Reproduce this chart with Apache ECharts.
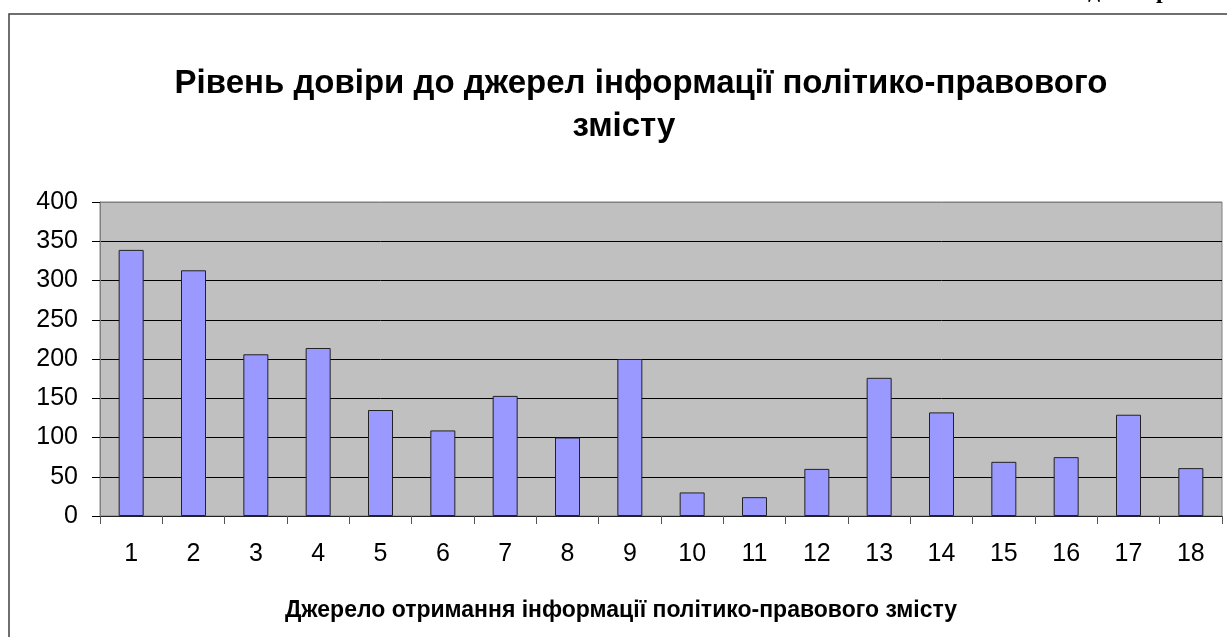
<!DOCTYPE html>
<html>
<head>
<meta charset="utf-8">
<script src="https://cdn.jsdelivr.net/npm/echarts@6/dist/echarts.min.js"></script>
<style>
  html, body { margin: 0; padding: 0; background: #fff; }
  #chart { width: 1227px; height: 637px; }
</style>
</head>
<body>
<div id="chart"></div>
<script>
// source numbers 1..18 and the trust level
const sources = ['1', '2', '3', '4', '5', '6', '7', '8', '9', '10', '11', '12', '13', '14', '15', '16', '17', '18'];
const trustLevel = [339, 313, 206, 214, 135, 109, 153, 100, 200, 30, 24, 60, 176, 132, 69, 75, 129, 61];

const titleLine1 = 'Рівень довіри до джерел інформації політико-правового';
const titleLine2 = 'змісту';
const xAxisTitle = 'Джерело отримання інформації політико-правового змісту';

const chart = echarts.init(document.getElementById('chart'));

// 9 split lines (0..400), the top one is the grey plot border
const splitColors = ['#000', '#000', '#000', '#000', '#000', '#000', '#000', '#000', '#808080'];

const option = {
  backgroundColor: '#fff',
  animation: false,
  textStyle: { fontFamily: 'Arial, "Liberation Sans", sans-serif' },
  graphic: [
    {
      type: 'rect',
      shape: { x: 9, y: 14, width: 1240, height: 640 },
      style: { fill: 'none', stroke: '#404040', lineWidth: 1.5 },
      silent: true
    },
    {
      type: 'text',
      x: 641, y: 84,
      style: {
        text: titleLine1, align: 'center', verticalAlign: 'middle',
        font: 'bold 33px Arial, "Liberation Sans", sans-serif', fill: '#000'
      }
    },
    {
      type: 'text',
      x: 624, y: 127,
      style: {
        text: titleLine2, align: 'center', verticalAlign: 'middle',
        font: 'bold 33px Arial, "Liberation Sans", sans-serif', fill: '#000'
      }
    },
    {
      type: 'text',
      x: 621, y: 611,
      style: {
        text: xAxisTitle, align: 'center', verticalAlign: 'middle',
        font: 'bold 23px Arial, "Liberation Sans", sans-serif', fill: '#000'
      }
    },
    // cut-off heading above the frame
    {
      type: 'text',
      x: 1088, y: 4,
      style: {
        text: 'д', align: 'left', verticalAlign: 'bottom',
        font: 'bold 24px "Liberation Serif", serif', fill: '#000'
      }
    },
    {
      type: 'text',
      x: 1156, y: 4,
      style: {
        text: 'р', align: 'left', verticalAlign: 'bottom',
        font: 'bold 24px "Liberation Serif", serif', fill: '#000'
      }
    }
  ],
  grid: {
    left: 100,
    right: 5,
    top: 202,
    bottom: 121,
    show: true,
    backgroundColor: '#c0c0c0',
    borderColor: '#808080',
    borderWidth: 1
  },
  xAxis: {
    type: 'category',
    data: sources,
    boundaryGap: true,
    axisLine: { show: true, lineStyle: { color: '#222', width: 1 } },
    axisTick: { show: true, interval: 0, length: 8, lineStyle: { color: '#555' } },
    axisLabel: { interval: 0, margin: 26, fontSize: 25, color: '#000' },
    splitLine: { show: false }
  },
  yAxis: {
    type: 'value',
    min: 0,
    max: 400,
    interval: 50,
    axisLine: { show: true, lineStyle: { color: '#808080' } },
    axisTick: { show: true, length: 8, lineStyle: { color: '#000' } },
    axisLabel: { margin: 22, fontSize: 25, color: '#000' },
    splitLine: { show: true, lineStyle: { color: splitColors, width: 1 } }
  },
  series: [
    {
      type: 'bar',
      data: trustLevel,
      barWidth: 25,
      itemStyle: {
        color: '#9999ff',
        borderColor: '#222',
        borderWidth: 1
      }
    }
  ]
};

chart.setOption(option);
</script>
</body>
</html>
